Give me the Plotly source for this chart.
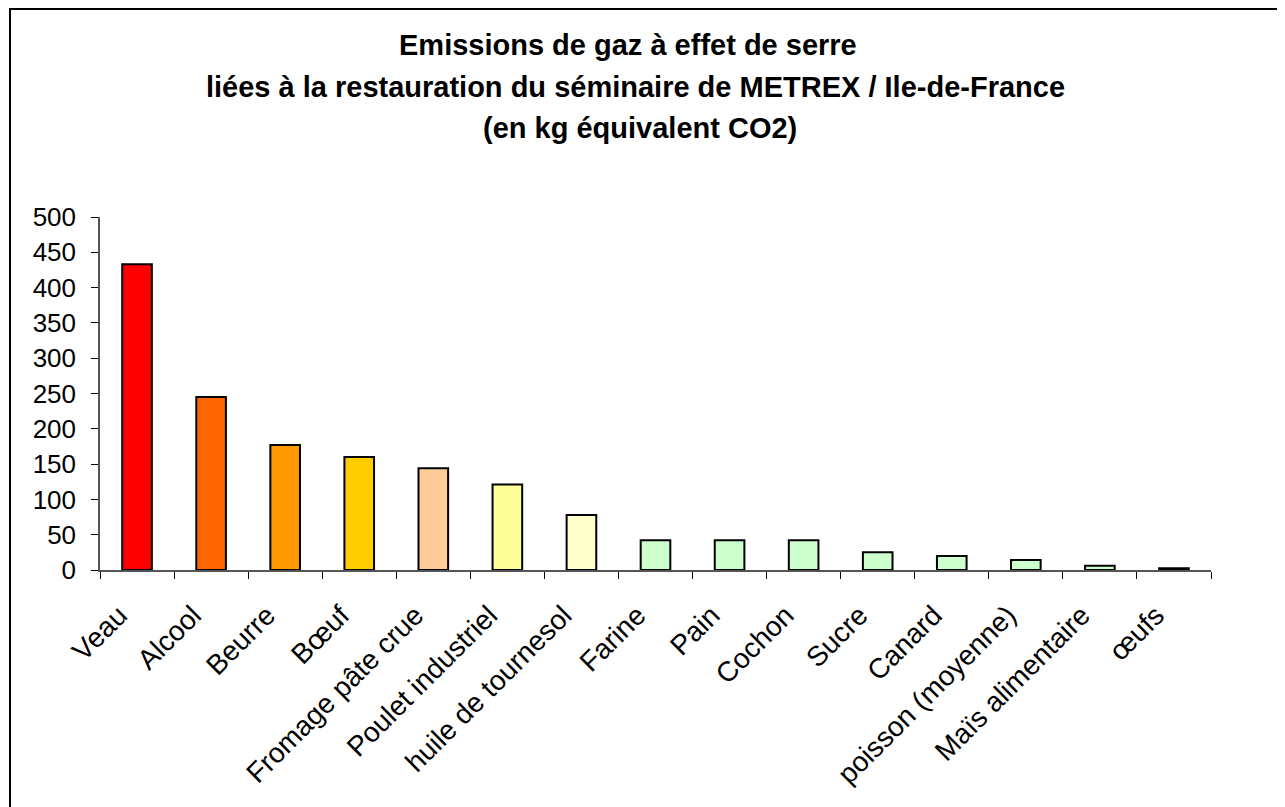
import plotly.graph_objects as go

categories = ["Veau", "Alcool", "Beurre", "Bœuf", "Fromage pâte crue", "Poulet industriel",
              "huile de tournesol", "Farine", "Pain", "Cochon", "Sucre", "Canard",
              "poisson (moyenne)", "Maïs alimentaire", "œufs"]
values = [433, 245, 177, 160, 144, 121, 78, 42, 42, 42, 25, 20, 14, 6, 2.5]
colors = ["#FF0000", "#FF6600", "#FF9900", "#FFCC00", "#FFCC99", "#FFFF99", "#FFFFCC",
          "#CCFFCC", "#CCFFCC", "#CCFFCC", "#CCFFCC", "#CCFFCC", "#CCFFCC", "#CCFFCC", "#CCFFCC"]
title_lines = ["Emissions de gaz à effet de serre",
               "liées à la restauration du séminaire de METREX / Ile-de-France",
               "(en kg équivalent CO2)"]
y_ticks = [0, 50, 100, 150, 200, 250, 300, 350, 400, 450, 500]

# page is offset by the default 8px body margin
OFF = 8
W, H = 1285 - OFF, 807 - OFF
L, T = 100 - OFF, 217 - OFF
R = W - (1211 - OFF)
B = H - (570 - OFF)
pw, ph = W - L - R, H - T - B

fig = go.Figure(go.Bar(
    x=categories, y=values,
    marker=dict(color=colors, line=dict(color="black", width=2)),
))

font = "Liberation Sans, Arial, sans-serif"

fig.update_layout(
    width=W, height=H,
    margin=dict(l=L, r=R, t=T, b=B),
    paper_bgcolor="white", plot_bgcolor="white",
    bargap=0.6,
    showlegend=False,
    font=dict(family=font, color="black", size=26),
    xaxis=dict(
        tickangle=-45, tickson="boundaries", ticks="outside", ticklen=7,
        tickcolor="black", showline=True, linecolor="#555555", linewidth=1.5,
        showgrid=False, tickfont=dict(size=28, family=font),
        ticklabelshift=-18, ticklabelstandoff=16,
    ),
    yaxis=dict(
        range=[0, 500], tickvals=y_ticks, ticks="outside", ticklen=7,
        tickcolor="black", showline=True, linecolor="#555555", linewidth=1.5,
        showgrid=False, zeroline=False, tickfont=dict(size=26, family=font),
        ticklabelstandoff=10,
    ),
)

# convert reference-page pixel coordinates to paper coordinates
def px_x(p): return (p - OFF - L) / pw
def px_y(p): return (H - B - (p - OFF)) / ph

fig.add_shape(type="rect", xref="paper", yref="paper",
              x0=px_x(10), x1=px_x(1320), y0=px_y(840), y1=px_y(9),
              line=dict(color="black", width=2), fillcolor="rgba(0,0,0,0)")

for yy, xx, line in zip([45, 87, 128], [628, 635, 640], title_lines):
    fig.add_annotation(text="<b>%s</b>" % line, xref="paper", yref="paper",
                       x=px_x(xx), y=px_y(yy), xanchor="center", yanchor="middle",
                       showarrow=False, font=dict(size=29, family=font, color="black"))

fig.write_html("out.html")
